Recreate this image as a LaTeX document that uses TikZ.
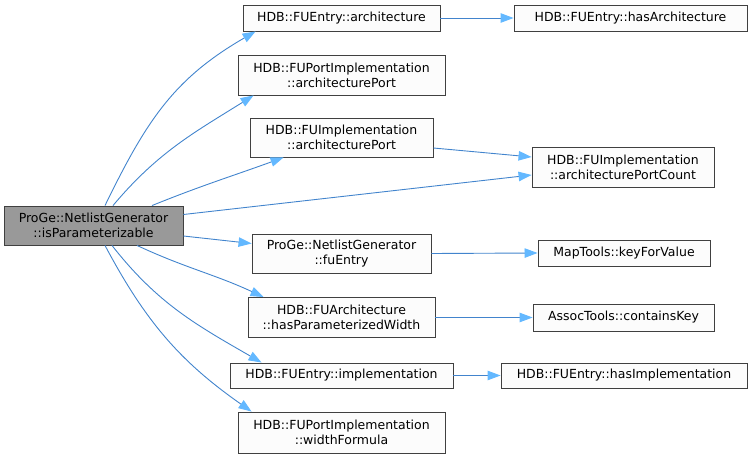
\documentclass[tikz,border=0pt]{standalone}
\usepackage{fontspec}
\setmainfont{DejaVu Sans}
\usetikzlibrary{arrows.meta,calc}
\definecolor{edgeblue}{RGB}{66,132,205}
\definecolor{tipblue}{RGB}{99,184,255}
\definecolor{boxborder}{RGB}{64,64,64}
\definecolor{boxfill}{RGB}{252,252,252}
\definecolor{rootfill}{RGB}{153,153,153}
\begin{document}
\begin{tikzpicture}[x=1pt,y=1pt,
  fn/.style={draw=boxborder,fill=boxfill,line width=0.9pt,inner sep=0pt,align=center,
    font=\fontsize{12.5}{15}\selectfont},
  rootbox/.style={fn,fill=rootfill},
  call/.style={draw=edgeblue,line width=0.9pt,
    -{Triangle[length=13pt,width=9.5pt,color=tipblue,fill=tipblue]}}]
\useasboundingbox (0,0) rectangle (752,458);
% nodes
\node[rootbox,minimum width=179pt,minimum height=39pt] (root) at (93.5,232.5) {ProGe::NetlistGenerator\\::isParameterizable};
\node[fn,minimum width=197pt,minimum height=26pt] (arch) at (341.5,440) {HDB::FUEntry::architecture};
\node[fn,minimum width=233pt,minimum height=26pt] (hasarch) at (630.5,440) {HDB::FUEntry::hasArchitecture};
\node[fn,minimum width=207pt,minimum height=40pt] (fpiap) at (341.5,383) {HDB::FUPortImplementation\\::architecturePort};
\node[fn,minimum width=183pt,minimum height=39pt] (fiap) at (341.5,320.5) {HDB::FUImplementation\\::architecturePort};
\node[fn,minimum width=182pt,minimum height=40pt] (apc) at (623,291) {HDB::FUImplementation\\::architecturePortCount};
\node[fn,minimum width=179pt,minimum height=39pt] (fuentry) at (341.5,204.5) {ProGe::NetlistGenerator\\::fuEntry};
\node[fn,minimum width=172pt,minimum height=26pt] (keyfor) at (624,205) {MapTools::keyForValue};
\node[fn,minimum width=187pt,minimum height=40pt] (haspw) at (341.5,140.5) {HDB::FUArchitecture\\::hasParameterizedWidth};
\node[fn,minimum width=181pt,minimum height=27pt] (contains) at (623.5,140.5) {AssocTools::containsKey};
\node[fn,minimum width=223pt,minimum height=25pt] (impl) at (341.5,82.5) {HDB::FUEntry::implementation};
\node[fn,minimum width=246pt,minimum height=25pt] (hasimpl) at (624,82.5) {HDB::FUEntry::hasImplementation};
\node[fn,minimum width=207pt,minimum height=41pt] (widthf) at (341.5,25.5) {HDB::FUPortImplementation\\::widthFormula};
% edges from root
\draw[call] ($(root.north)+(11.5,0)$) to[out=64,in=210,looseness=1.05] ($(arch.south west)+(13,0)$);
\draw[call] ($(root.north)+(19.5,0)$) to[out=50,in=212] ($(fpiap.south west)+(16,0)$);
\draw[call] ($(root.north)+(58.5,0)$) to[out=22,in=200] ($(fiap.south west)+(34,0)$);
\draw[call] ($(root.east)+(0,11)$) -- ($(apc.west)+(0,-8)$);
\draw[call] ($(root.east)+(0,-10.5)$) -- ($(fuentry.west)+(0,10)$);
\draw[call] ($(root.south)+(43.5,0)$) to[out=-25,in=155] ($(haspw.north west)+(16,0)$);
\draw[call] ($(root.south)+(18.5,0)$) to[out=-52,in=150] ($(impl.north west)+(32,0)$);
\draw[call] ($(root.south)+(11.5,0)$) to[out=-62,in=145] ($(widthf.north west)+(14,0)$);
% other edges
\draw[call] ($(fiap.east)+(0,-10.5)$) -- ($(apc.west)+(0,10)$);
\draw[call] (arch.east) -- (hasarch.west);
\draw[call] (fuentry.east) -- (keyfor.west);
\draw[call] (haspw.east) -- (contains.west);
\draw[call] (impl.east) -- (hasimpl.west);
\end{tikzpicture}
\end{document}
